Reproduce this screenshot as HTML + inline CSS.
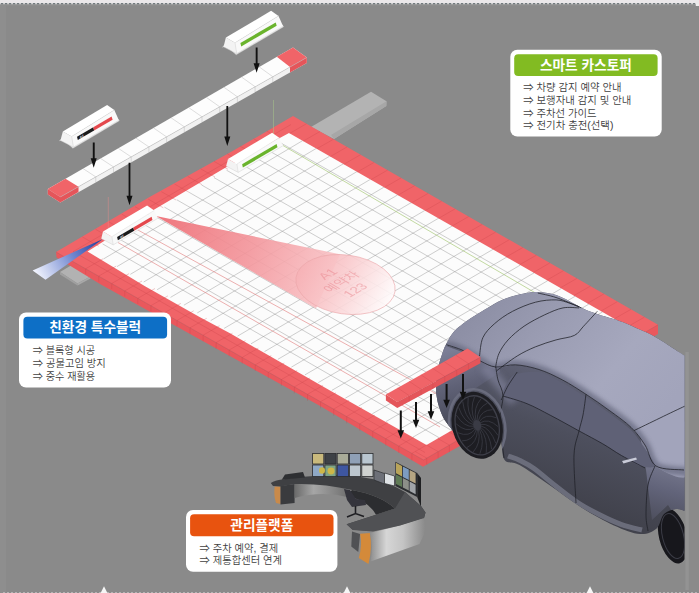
<!DOCTYPE html><html><head><meta charset="utf-8"><title>스마트 카스토퍼</title><style>html,body{margin:0;padding:0;background:#8a8a8a;overflow:hidden}svg{display:block}</style></head><body>
<svg width="699" height="593" viewBox="0 0 699 593">
<rect x="0" y="0" width="699" height="593" fill="#8a8a8a"/>
<rect x="0" y="0" width="699" height="3.2" fill="#ebe8ea"/>
<rect x="0" y="3" width="699" height="1.5" fill="#cfcfd0"/>
<line x1="1" y1="3.8" x2="696" y2="3.8" stroke="#727a7e" stroke-width="1.5" stroke-dasharray="2.1 1.9"/>
<rect x="0" y="4.5" width="699" height="1" fill="#8f8f8f"/>
<rect x="695.8" y="3.1" width="3.2" height="2.9" fill="#ececec"/>
<rect x="0" y="5" width="6" height="588" fill="#8e8e8e"/>
<rect x="685.5" y="352" width="3.3" height="238" fill="#939393"/>
<line x1="3" y1="592.6" x2="699" y2="592.6" stroke="#bdbdbd" stroke-width="0.9" stroke-dasharray="2 2"/>
<polygon points="104,586.3 100.6,593 107.4,593" fill="#f6f6f6"/>
<polygon points="347,586.3 343.6,593 350.4,593" fill="#f6f6f6"/>
<polygon points="590,586.3 586.6,593 593.4,593" fill="#f6f6f6"/>
<polygon points="311,127 371,91.8 386.5,101.3 386.3,106 334,139" fill="#b3b3b3"/>
<polygon points="386.5,101.3 386.3,106 334,139 331,135" fill="#a7a7a7"/>
<polygon points="60,272 71,265.5 90.5,276.5 77.5,283.5" fill="#b2b2b2"/>
<polygon points="60,272 77.5,283.5 77.5,285.5 60,274.5" fill="#a0a0a0"/>
<polygon points="77.5,283.5 90.5,276.5 90.5,278.5 77.5,285.5" fill="#a8a8a8"/>
<polygon points="56.0,252.0 423.5,460.0 658.0,324.8 658.0,334.0 423.0,466.8 318.8,405.3 200.0,339.6 100.0,284.0 56.6,257.5" fill="#e9585d"/>
<polygon points="56.0,252.0 150.0,196.8 230.0,152.6 293.0,116.0 658.0,324.8 423.5,460.0" fill="#f06468"/>
<polygon points="87.5,251.5 154.3,209.5 227.4,166.5 289.0,133.0 630.0,327.7 426.5,445.0 330.0,390.4 230.0,333.3 200.0,317.2 145.0,286.2" fill="#fcfcfc"/>
<path d="M102.6 243.9L439.1 437.7M114.9 236.5L451.7 430.5M127.3 229.2L464.4 423.2M139.6 221.9L477.0 415.9M152.0 214.5L489.7 408.6M164.4 207.1L502.4 401.3M176.8 199.8L515.1 394.0M189.2 192.4L527.8 386.6M201.6 185.0L540.5 379.3M214.0 177.6L553.2 371.9M226.5 170.2L566.0 364.6M239.0 162.8L578.8 357.2M251.5 155.3L591.5 349.9M264.0 147.9L604.4 342.5M276.5 140.5L617.2 335.1M103.6 258.9L302.5 140.7M117.0 266.6L316.1 148.5M130.4 274.3L329.6 156.2M143.7 282.0L343.2 163.9M157.1 289.7L356.8 171.7M170.5 297.4L370.3 179.4M183.9 305.2L383.9 187.2M197.3 312.9L397.5 195.0M210.7 320.6L411.1 202.7M224.1 328.4L424.7 210.5M237.6 336.1L438.4 218.3M251.0 343.8L452.0 226.1M264.5 351.6L465.6 233.9M277.9 359.3L479.3 241.6M291.4 367.1L492.9 249.4M304.9 374.9L506.6 257.2M318.3 382.6L520.3 265.1M331.8 390.4L534.0 272.9M345.3 398.2L547.7 280.7M358.8 406.0L561.4 288.5M372.3 413.8L575.1 296.3M385.9 421.6L588.8 304.2M399.4 429.4L602.5 312.0M412.9 437.2L616.3 319.9" stroke="#8c8c8c" stroke-width="0.7" fill="none" opacity="0.6"/>
<path d="M82.3 236.9L98.7 246.2M95.5 229.3L111.6 238.5M108.7 221.8L124.5 230.8M121.8 214.2L137.4 223.2M135.0 206.7L150.4 215.5M148.2 199.1L163.3 207.8M161.3 191.6L176.2 200.1M174.5 184.0L189.2 192.4M187.7 176.4L202.1 184.7M200.8 168.9L215.0 177.0M214.0 161.3L228.0 169.3M227.2 153.8L240.9 161.6M240.3 146.2L253.8 153.9M253.5 138.7L266.7 146.2M266.7 131.1L279.7 138.5M306.5 123.7L289.7 133.4M320.0 131.5L303.2 141.1M333.6 139.2L316.7 148.8M347.1 146.9L330.3 156.6M360.6 154.7L343.8 164.3M374.1 162.4L357.3 172.0M387.6 170.1L370.9 179.7M401.1 177.9L384.4 187.5M414.7 185.6L397.9 195.2M428.2 193.3L411.5 202.9M441.7 201.1L425.0 210.7M455.2 208.8L438.5 218.4M468.7 216.5L452.1 226.1M482.3 224.3L465.6 233.8M495.8 232.0L479.1 241.6M509.3 239.7L492.7 249.3M522.8 247.5L506.2 257.0M536.3 255.2L519.7 264.7M549.9 262.9L533.3 272.5M563.4 270.7L546.8 280.2M576.9 278.4L560.3 287.9M590.4 286.1L573.8 295.6M603.9 293.9L587.4 303.4M617.4 301.6L600.9 311.1M631.0 309.3L614.4 318.8M644.5 317.1L628.0 326.5M103.2 258.7L85.6 268.8L85.6 274.1M116.2 266.1L98.7 276.1L98.7 281.5M129.1 273.6L111.7 283.5L111.7 289.0M142.0 281.0L124.8 290.9L124.8 296.4M155.0 288.5L137.8 298.3L137.8 303.9M167.9 295.9L150.9 305.7L150.9 311.3M180.8 303.4L163.9 313.1L163.9 318.8M193.7 310.8L177.0 320.5L177.0 326.3M206.7 318.3L190.0 327.8L190.0 333.7M219.6 325.7L203.1 335.2L203.1 341.2M232.5 333.2L216.1 342.6L216.1 348.6M245.5 340.6L229.2 350.0L229.2 356.1M258.4 348.1L242.2 357.4L242.2 363.5M271.3 355.6L255.3 364.8L255.3 371.0M284.3 363.0L268.3 372.2L268.3 378.4M297.2 370.5L281.4 379.5L281.4 385.9M310.1 377.9L294.4 386.9L294.4 393.3M323.1 385.4L307.5 394.3L307.5 400.8M336.0 392.8L320.5 401.7L320.5 408.3M348.9 400.3L333.6 409.1L333.6 415.7M361.8 407.7L346.6 416.5L346.6 423.2M374.8 415.2L359.7 423.9L359.7 430.6M387.7 422.6L372.7 431.2L372.7 438.1M400.6 430.1L385.8 438.6L385.8 445.5M413.6 437.5L398.8 446.0L398.8 453.0M426.5 445.0L411.9 453.4L411.9 460.4M415.2 451.5L426.7 458.1L426.7 464.7M426.5 445.0L438.1 451.6L438.1 458.3M437.8 438.5L449.4 445.1L449.4 451.9M449.1 432.0L460.7 438.6L460.7 445.5M460.4 425.4L472.0 432.1L472.0 439.1M471.7 418.9L483.3 425.5L483.3 432.7M483.0 412.4L494.6 419.0L494.6 426.4M494.3 405.9L505.9 412.5L505.9 420.0M505.6 399.4L517.2 406.0L517.2 413.6M516.9 392.9L528.5 399.5L528.5 407.2M528.2 386.4L539.8 393.0L539.8 400.8M539.6 379.8L551.1 386.4L551.1 394.4M550.9 373.3L562.4 379.9L562.4 388.0M562.2 366.8L573.7 373.4L573.7 381.6M573.5 360.3L585.0 366.9L585.0 375.2M584.8 353.8L596.3 360.4L596.3 368.9M596.1 347.2L607.6 353.8L607.6 362.5M607.4 340.7L618.9 347.3L618.9 356.1M618.7 334.2L630.2 340.8L630.2 349.7M56.0 252.0L423.5 460.0L658.0 324.8M73.2 251.6L425.0 452.5M73.2 251.6L291.0 124.5" stroke="#c9444b" stroke-width="0.6" fill="none" opacity="0.5"/>
<path d="M283,145.5 L640,354" stroke="#9fc46a" stroke-width="0.7" fill="none" opacity="0.9"/>
<path d="M118,242.5 L440,427 M137,229.5 L460,406.8" stroke="#e07a7a" stroke-width="0.7" fill="none" opacity="0.85"/>
<line x1="108.3" y1="197" x2="108.3" y2="236" stroke="#e88a8a" stroke-width="0.8" opacity="0.55"/>
<line x1="273.5" y1="100" x2="273.5" y2="134" stroke="#a9c98a" stroke-width="0.8" opacity="0.6"/>
<defs>
<linearGradient id="coneg" gradientUnits="userSpaceOnUse" x1="156" y1="216" x2="395" y2="300">
<stop offset="0" stop-color="#ee6f76" stop-opacity="0.95"/>
<stop offset="0.4" stop-color="#f3959b" stop-opacity="0.9"/>
<stop offset="0.75" stop-color="#f9c6c9" stop-opacity="0.9"/>
<stop offset="1" stop-color="#ffffff" stop-opacity="0.9"/>
</linearGradient>
<linearGradient id="beamg" gradientUnits="userSpaceOnUse" x1="103" y1="239" x2="36" y2="276">
<stop offset="0" stop-color="#1c3a9a"/>
<stop offset="0.45" stop-color="#6f86cf"/>
<stop offset="1" stop-color="#f4f6ff"/>
</linearGradient>
</defs>
<polygon points="156,216 340,254.3 316,308.5" fill="url(#coneg)"/>
<ellipse cx="345.5" cy="284.5" rx="50" ry="29.5" transform="rotate(8 345.5 284.5)" fill="url(#coneg)" stroke="#eba4a8" stroke-width="0.6"/>
<g transform="matrix(0.866,-0.5,0.866,0.5,341.5,282)" font-family="'Liberation Sans','Noto Sans CJK KR',sans-serif" font-size="13" fill="#e8848c" opacity="0.5" text-anchor="middle"><text x="0" y="-11.5">A1</text><text x="0" y="4.5">예약차</text><text x="0" y="20.5">123</text></g>
<polygon points="103,239 32.6,270.4 45.5,279.8" fill="url(#beamg)"/>
<polygon points="47.8,189.0 60.3,197.0 306.8,57.5 306.8,62.9 60.3,202.4 47.8,194.4" fill="#f1f1f1"/>
<polygon points="47.8,189.0 293.0,47.4 306.8,57.5 60.3,197.0" fill="#fdfdfd"/>
<polygon points="47.8,189.0 65.5,178.8 78.5,186.7 60.3,197.0" fill="#f06468"/>
<polygon points="47.8,189.0 60.3,197.0 78.5,186.7 78.5,192.1 60.3,202.4 47.8,194.4" fill="#e4555a"/>
<polygon points="276.8,56.7 293.0,47.4 306.8,57.5 290.0,67.0" fill="#f06468"/>
<polygon points="290.0,67.0 306.8,57.5 306.8,62.9 290.0,72.4" fill="#e4555a"/>
<path d="M83.1 168.6L95.8 176.9L95.8 182.3M100.7 158.5L113.5 166.9L113.5 172.3M118.3 148.3L131.2 156.9L131.2 162.3M135.9 138.1L148.9 146.9L148.9 152.3M153.5 127.9L166.6 136.9L166.6 142.3M171.1 117.8L184.3 126.8L184.3 132.2M188.7 107.6L202.0 116.8L202.0 122.2M206.4 97.4L219.7 106.8L219.7 112.2M224.0 87.3L237.4 96.8L237.4 102.2M241.6 77.1L255.1 86.7L255.1 92.1M259.2 66.9L272.8 76.7L272.8 82.1M60.3 197.0L306.8 57.5" stroke="#b9b9b9" stroke-width="0.6" fill="none" opacity="0.8"/>
<polygon points="59.4,140.9 61.8,138.3 72.9,148.3 119.4,120.7 117.7,118.7" fill="#e9e9e9" stroke="#c9c9c9" stroke-width="0.4"/>
<polygon points="62.8,131.4 71.7,136.5 73.4,147.1 60.5,140.4" fill="#f3f3f3"/>
<polygon points="71.7,136.5 114.3,110.1 118.9,120.2 73.4,147.1" fill="#f9f9f9"/>
<polygon points="62.8,131.4 107.1,105.0 114.3,110.1 71.7,136.5" fill="#ffffff"/>
<path d="M60.5 140.4L73.4 147.1L118.9 120.2 M71.7 136.5L73.4 147.1" stroke="#d2d2d2" stroke-width="0.5" fill="none"/>
<path d="M71.7 136.5L114.3 110.1" stroke="#dcdcdc" stroke-width="0.5" fill="none"/>
<polygon points="77.0,136.7 93.3,127.2 94.1,130.5 77.8,140.1" fill="#1b1b1b"/>
<polygon points="93.3,127.2 111.6,116.5 112.6,119.7 94.1,130.5" fill="#e4484d"/>
<text transform="matrix(0.866,-0.5,0,1,79.8,138.7)" font-family="'Liberation Sans','Noto Sans CJK KR',sans-serif" font-size="3.4" font-weight="700" fill="#ffffff">A1</text>
<polygon points="222.4,47.3 224.9,44.6 236.2,54.8 283.7,26.7 281.9,24.6" fill="#e9e9e9" stroke="#c9c9c9" stroke-width="0.4"/>
<polygon points="225.9,37.6 235.0,42.8 236.7,53.6 223.6,46.8" fill="#f3f3f3"/>
<polygon points="235.0,42.8 278.5,15.9 283.1,26.2 236.7,53.6" fill="#f9f9f9"/>
<polygon points="225.9,37.6 271.1,10.7 278.5,15.9 235.0,42.8" fill="#ffffff"/>
<path d="M223.6 46.8L236.7 53.6L283.1 26.2 M235.0 42.8L236.7 53.6" stroke="#d2d2d2" stroke-width="0.5" fill="none"/>
<path d="M235.0 42.8L278.5 15.9" stroke="#dcdcdc" stroke-width="0.5" fill="none"/>
<polygon points="240.4,43.0 275.7,22.4 276.7,25.7 241.2,46.5" fill="#6ab42d"/>
<polygon points="228.0,158.9 236.9,164.0 238.2,172.4 226.2,166.1" fill="#f3f3f3"/>
<polygon points="236.9,164.0 279.3,137.7 282.9,145.8 238.2,172.4" fill="#f9f9f9"/>
<polygon points="228.0,158.9 272.1,132.7 279.3,137.7 236.9,164.0" fill="#ffffff"/>
<path d="M226.2 166.1L238.2 172.4L282.9 145.8 M236.9 164.0L238.2 172.4" stroke="#d2d2d2" stroke-width="0.5" fill="none"/>
<path d="M236.9 164.0L279.3 137.7" stroke="#dcdcdc" stroke-width="0.5" fill="none"/>
<polygon points="242.1,164.2 276.6,144.1 277.5,147.3 242.9,167.6" fill="#6ab42d"/>
<polygon points="103.0,231.6 111.9,236.7 113.2,244.9 101.3,238.6" fill="#f3f3f3"/>
<polygon points="111.9,236.7 154.3,210.4 157.8,218.3 113.2,244.9" fill="#f9f9f9"/>
<polygon points="103.0,231.6 147.1,205.4 154.3,210.4 111.9,236.7" fill="#ffffff"/>
<path d="M101.3 238.6L113.2 244.9L157.8 218.3 M111.9 236.7L113.2 244.9" stroke="#d2d2d2" stroke-width="0.5" fill="none"/>
<path d="M111.9 236.7L154.3 210.4" stroke="#dcdcdc" stroke-width="0.5" fill="none"/>
<polygon points="117.1,236.9 133.3,227.4 134.2,230.7 117.9,240.3" fill="#1b1b1b"/>
<polygon points="133.3,227.4 151.6,216.8 152.5,220.0 134.2,230.7" fill="#e4484d"/>
<text transform="matrix(0.866,-0.5,0,1,119.9,238.8)" font-family="'Liberation Sans','Noto Sans CJK KR',sans-serif" font-size="3.4" font-weight="700" fill="#ffffff">A1</text>
<path d="M255.7 47.5V63.2H253.6L256.6 72.7L259.6 63.2H257.6V47.5Z" fill="#111"/>
<path d="M226.4 106.0V136.5H224.3L227.3 146.0L230.3 136.5H228.2V106.0Z" fill="#111"/>
<path d="M92.8 142.5V158.3H90.7L93.7 167.8L96.7 158.3H94.7V142.5Z" fill="#111"/>
<path d="M128.6 162.7V195.7H126.5L129.5 205.2L132.5 195.7H130.4V162.7Z" fill="#111"/>
<defs>
<linearGradient id="silv" x1="0" y1="0" x2="1" y2="0"><stop offset="0" stop-color="#8c8c8c"/><stop offset="0.3" stop-color="#d6d6d6"/><stop offset="0.6" stop-color="#c4c4c4"/><stop offset="1" stop-color="#8a8a8a"/></linearGradient>
<linearGradient id="silv2" x1="0" y1="0" x2="1" y2="0"><stop offset="0" stop-color="#6a6a6a"/><stop offset="0.35" stop-color="#a6a6a6"/><stop offset="1" stop-color="#6e6e6e"/></linearGradient>
</defs>
<g id="desk">
<path d="M274.7 486.5 L280.5 486.5 L280.5 504 L276 503 Q273.5 495 274.7 486.5Z" fill="#c98a4a"/>
<path d="M280.5 486 L294.6 484 L294.6 503 L280.5 504.5Z" fill="#3a3b3e"/>
<path d="M294.6 483.6 Q322 480.5 345 487.5 L349 497.5 Q322 490.5 294.6 498Z" fill="url(#silv2)"/>
<path d="M270.8 483 Q275 480 282 479.5 L300 477 Q330 474 355 476 Q385 480 405 492 L421 506 L425.5 512.5 L424 518 L400 525 L373 531 L352.7 529.7 L346.6 524.2 L376 514.7 L395 508.5 Q380 495 352 490 Q322 483 294.6 484 L280.5 486.5 L273 486 Z" fill="#3f4043"/>
<path d="M352 490 Q380 495 395 508.5 L376 514.7 Q368 500 346 496Z" fill="#2c2d30"/>
<path d="M281.7 479.8 L285 474.6 L303 472 L305 477.5Z" fill="#2e2f32"/>
<rect x="312.6" y="453.4" width="11.2" height="10.6" fill="#c9b97c" stroke="#2a2b2e" stroke-width="0.8"/>
<rect x="312.6" y="465" width="11.2" height="11.6" fill="#8fa9c6" stroke="#2a2b2e" stroke-width="0.8"/>
<rect x="324.9" y="453.4" width="11.2" height="10.6" fill="#3e4146" stroke="#2a2b2e" stroke-width="0.8"/>
<rect x="324.9" y="465" width="11.2" height="11.6" fill="#7fa486" stroke="#2a2b2e" stroke-width="0.8"/>
<rect x="337.2" y="453.4" width="11.2" height="10.6" fill="#a9ab98" stroke="#2a2b2e" stroke-width="0.8"/>
<rect x="337.2" y="465" width="11.2" height="11.6" fill="#3e56a0" stroke="#2a2b2e" stroke-width="0.8"/>
<rect x="349.5" y="453.4" width="11.2" height="10.6" fill="#8fa0b6" stroke="#2a2b2e" stroke-width="0.8"/>
<rect x="349.5" y="465" width="11.2" height="11.6" fill="#bcc6ce" stroke="#2a2b2e" stroke-width="0.8"/>
<rect x="361.8" y="453.4" width="11.2" height="10.6" fill="#b9c6d0" stroke="#2a2b2e" stroke-width="0.8"/>
<rect x="361.8" y="465" width="11.2" height="11.6" fill="#cfd2d0" stroke="#2a2b2e" stroke-width="0.8"/>
<ellipse cx="322" cy="470.5" rx="3" ry="3.2" fill="#cdb748"/>
<ellipse cx="331" cy="471" rx="3.5" ry="3.4" fill="#cdb748"/>
<path d="M374 470 L384.5 473.5 L384.5 484 L374 480Z" fill="#6d7078" stroke="#2a2b2e" stroke-width="0.7"/>
<path d="M384.5 473 L394.5 476 L394.5 486 L384.5 483.5Z" fill="#dfe3e6" stroke="#2a2b2e" stroke-width="0.7"/>
<path d="M395.4 461.7 L417.2 473 L417.2 497 L395.4 486Z" fill="#2b2d30"/>
<path d="M396.0 462.8 l6 3.1 v10.5 l-6 -3.1Z" fill="#b9a45a"/>
<path d="M396.0 474.4 l6 3.1 v9.5 l-6 -3.1Z" fill="#5f7a55"/>
<path d="M402.8 466.4 l6 3.1 v10.5 l-6 -3.1Z" fill="#7d9cc0"/>
<path d="M402.8 478.0 l6 3.1 v9.5 l-6 -3.1Z" fill="#8c8f88"/>
<path d="M409.6 470.0 l6 3.1 v10.5 l-6 -3.1Z" fill="#b5a582"/>
<path d="M409.6 481.6 l6 3.1 v9.5 l-6 -3.1Z" fill="#a0a4a8"/>
<path d="M417.2 473 L421 478 L421 507 L417.2 497Z" fill="#1f2022"/>
<path d="M344 489 L350 490 L356 499 L365 500 L366 505 L352 507 L347 500Z" fill="#34343c"/>
<path d="M355.5 506 V514 M347 517 L355.5 513.5 L364 516.5" stroke="#1e1e22" stroke-width="1.6" fill="none"/>
<path d="M352 531.5 L360.1 534 L358.3 552 L351.3 546.6Z" fill="#505154"/>
<path d="M360.1 533.7 L369.9 533 Q372.5 548 368.5 564 L358.8 558 Q362.5 545 360.1 533.7Z" fill="#d48a3a"/>
<path d="M369.9 533 L400 525.5 L423.3 518 Q426.5 526 424 534.5 L419.5 544 L370.5 561.5 Q373.5 546 369.9 533Z" fill="url(#silv)"/>
<path d="M346.6 524.2 L376 514.7 L395 508.5 L405 492 L421 506 L425.5 512.5 L424 518 L400 525.5 L373 531.5 L352.7 529.9Z" fill="#505154"/>
</g>
<defs>
<linearGradient id="carside" gradientUnits="userSpaceOnUse" x1="520" y1="360" x2="480" y2="470">
<stop offset="0" stop-color="#5f6174"/><stop offset="0.45" stop-color="#4d4f5d"/><stop offset="1" stop-color="#41424c"/>
</linearGradient>
<linearGradient id="cartop" gradientUnits="userSpaceOnUse" x1="470" y1="300" x2="640" y2="440">
<stop offset="0" stop-color="#8b8da3"/><stop offset="0.35" stop-color="#9a9cb2"/><stop offset="0.7" stop-color="#a6a8be"/><stop offset="1" stop-color="#a2a4bb"/>
</linearGradient>
<linearGradient id="carrear" gradientUnits="userSpaceOnUse" x1="670" y1="455" x2="650" y2="530">
<stop offset="0" stop-color="#7d7f94"/><stop offset="0.45" stop-color="#62647a"/><stop offset="1" stop-color="#474854"/>
</linearGradient>
<linearGradient id="carfront" gradientUnits="userSpaceOnUse" x1="450" y1="350" x2="470" y2="420">
<stop offset="0" stop-color="#7c7e96"/><stop offset="0.5" stop-color="#5f6176"/><stop offset="1" stop-color="#484a58"/>
</linearGradient>
<clipPath id="carclip"><path d="M436.0 392.0C436.1 389.7 436.1 382.3 436.5 378.0C436.9 373.7 437.6 369.9 438.5 366.0C439.4 362.1 440.7 358.3 442.0 354.6C443.3 350.9 444.4 347.5 446.4 343.6C448.4 339.8 450.5 335.3 454.0 331.5C457.5 327.7 462.2 324.2 467.3 320.6C472.4 317.0 479.0 313.1 484.8 309.6C490.6 306.1 496.5 302.2 502.4 299.7C508.3 297.1 514.5 295.6 520.0 294.3C525.5 293.0 529.8 292.1 535.3 292.0C540.8 291.9 547.8 292.9 552.8 294.0C557.8 295.1 561.4 297.2 565.0 298.8C568.6 300.4 570.8 302.0 574.3 303.8C577.8 305.6 581.8 308.1 585.8 309.8C589.8 311.5 593.5 312.7 598.0 314.2C602.5 315.7 608.3 317.3 612.9 318.8C617.5 320.3 621.4 321.5 625.7 323.2C630.0 324.9 634.3 327.1 638.6 329.0C642.9 330.9 647.2 332.6 651.5 334.8C655.8 337.1 660.1 339.8 664.4 342.5C668.7 345.2 673.9 348.7 677.2 350.9C680.6 353.1 683.3 354.8 684.5 355.6L684.5 510.7C683.1 510.4 679.4 508.4 676.0 509.0C672.6 509.6 667.3 510.7 664.0 514.0C660.7 517.3 660.4 525.4 656.4 528.7C652.4 532.0 647.1 534.5 640.0 534.0C632.9 533.5 623.8 529.8 614.0 525.4C604.2 521.0 592.2 514.3 581.4 507.5C570.6 500.7 559.3 491.8 549.0 484.7C538.7 477.6 526.9 469.1 519.5 465.0C512.1 460.9 507.7 464.2 504.6 460.0C501.5 455.8 502.6 447.5 501.0 440.0C499.4 432.5 498.2 422.3 495.0 415.0C491.8 407.7 486.8 399.5 482.0 396.0C477.2 392.5 470.3 392.0 466.0 394.0C461.7 396.0 457.5 401.3 456.0 408.0C454.5 414.7 458.0 430.8 457.0 434.0C456.0 437.2 452.2 429.7 450.0 427.0C447.8 424.3 445.4 421.7 443.5 418.0C441.6 414.3 439.8 409.3 438.5 405.0C437.2 400.7 436.4 394.2 436.0 392.0Z"/></clipPath>
</defs>
<g id="car">
<g clip-path="url(#rclip)"><g transform="rotate(-14 673 536)"><ellipse cx="673" cy="536" rx="14" ry="28" fill="#17171c"/><ellipse cx="673" cy="536" rx="10.5" ry="23" fill="none" stroke="#3b3c46" stroke-width="1"/></g></g>
<defs><clipPath id="rclip"><rect x="600" y="480" width="84.5" height="100"/></clipPath></defs>
<path d="M436.0 392.0C436.1 389.7 436.1 382.3 436.5 378.0C436.9 373.7 437.6 369.9 438.5 366.0C439.4 362.1 440.7 358.3 442.0 354.6C443.3 350.9 444.4 347.5 446.4 343.6C448.4 339.8 450.5 335.3 454.0 331.5C457.5 327.7 462.2 324.2 467.3 320.6C472.4 317.0 479.0 313.1 484.8 309.6C490.6 306.1 496.5 302.2 502.4 299.7C508.3 297.1 514.5 295.6 520.0 294.3C525.5 293.0 529.8 292.1 535.3 292.0C540.8 291.9 547.8 292.9 552.8 294.0C557.8 295.1 561.4 297.2 565.0 298.8C568.6 300.4 570.8 302.0 574.3 303.8C577.8 305.6 581.8 308.1 585.8 309.8C589.8 311.5 593.5 312.7 598.0 314.2C602.5 315.7 608.3 317.3 612.9 318.8C617.5 320.3 621.4 321.5 625.7 323.2C630.0 324.9 634.3 327.1 638.6 329.0C642.9 330.9 647.2 332.6 651.5 334.8C655.8 337.1 660.1 339.8 664.4 342.5C668.7 345.2 673.9 348.7 677.2 350.9C680.6 353.1 683.3 354.8 684.5 355.6L684.5 510.7C683.1 510.4 679.4 508.4 676.0 509.0C672.6 509.6 667.3 510.7 664.0 514.0C660.7 517.3 660.4 525.4 656.4 528.7C652.4 532.0 647.1 534.5 640.0 534.0C632.9 533.5 623.8 529.8 614.0 525.4C604.2 521.0 592.2 514.3 581.4 507.5C570.6 500.7 559.3 491.8 549.0 484.7C538.7 477.6 526.9 469.1 519.5 465.0C512.1 460.9 507.7 464.2 504.6 460.0C501.5 455.8 502.6 447.5 501.0 440.0C499.4 432.5 498.2 422.3 495.0 415.0C491.8 407.7 486.8 399.5 482.0 396.0C477.2 392.5 470.3 392.0 466.0 394.0C461.7 396.0 457.5 401.3 456.0 408.0C454.5 414.7 458.0 430.8 457.0 434.0C456.0 437.2 452.2 429.7 450.0 427.0C447.8 424.3 445.4 421.7 443.5 418.0C441.6 414.3 439.8 409.3 438.5 405.0C437.2 400.7 436.4 394.2 436.0 392.0Z" fill="url(#carside)"/>
<g clip-path="url(#carclip)">
<path d="M508.0 456.0C510.0 456.8 515.7 458.4 520.0 460.5C524.3 462.6 528.0 464.2 534.0 468.5C540.0 472.8 548.5 480.3 555.8 486.0C563.1 491.7 570.4 497.7 577.7 502.5C585.0 507.3 592.3 511.1 599.6 514.8C606.9 518.5 614.5 522.1 621.6 524.6C628.7 527.1 638.6 529.1 642.0 530.0" fill="none" stroke="#6f7180" stroke-width="5" opacity="0.9"/>
<polygon points="430,340 500,366 500,372 470,392 452,430 430,430" fill="url(#carfront)"/>
<path d="M484 366 Q498 380 514 402" fill="none" stroke="#8587a0" stroke-width="11" opacity="0.6" filter="url(#blr2)"/>
<defs><filter id="blr2" x="-50%" y="-50%" width="200%" height="200%"><feGaussianBlur stdDeviation="3"/></filter></defs>
<polygon points="640,436 690,420 690,540 668,505 652,520 646,470" fill="url(#carrear)"/>
<path d="M443.0 353.0C442.8 352.7 445.0 346.3 446.4 343.6C447.8 340.9 451.4 334.4 454.0 331.5C456.6 328.6 463.4 323.3 467.3 320.6C471.2 317.9 480.4 312.2 484.8 309.6C489.2 307.0 498.0 301.6 502.4 299.7C506.8 297.8 515.9 295.3 520.0 294.3C524.1 293.3 531.2 292.0 535.3 292.0C539.4 292.0 549.1 293.1 552.8 294.0C556.5 294.9 562.3 297.6 565.0 298.8C567.7 300.0 571.7 302.4 574.3 303.8C576.9 305.2 582.8 308.5 585.8 309.8C588.8 311.1 594.6 313.1 598.0 314.2C601.4 315.3 609.4 317.7 612.9 318.8C616.4 319.9 622.5 321.9 625.7 323.2C628.9 324.5 635.4 327.6 638.6 329.0C641.8 330.4 648.3 333.1 651.5 334.8C654.7 336.5 661.2 340.5 664.4 342.5C667.6 344.5 674.0 349.0 677.2 350.9C680.4 352.8 688.4 342.9 690.0 358.0C691.6 373.1 694.1 458.4 690.0 472.0C685.9 485.6 662.6 470.4 657.0 467.0C651.4 463.6 648.2 450.0 645.0 445.0C641.8 440.0 635.4 431.6 631.0 427.3C626.6 423.0 615.4 414.9 609.8 410.8C604.2 406.7 591.9 398.2 586.0 394.3C580.1 390.4 568.5 383.1 562.6 380.0C556.7 376.9 544.9 371.4 539.0 369.5C533.1 367.6 521.0 364.9 515.4 364.8C509.8 364.7 498.4 368.8 494.0 368.3C489.6 367.8 484.3 363.2 480.4 361.0C476.5 358.8 467.1 352.9 463.0 351.0C458.9 349.1 450.5 345.8 448.0 346.0C445.5 346.2 443.2 353.3 443.0 353.0Z" fill="url(#cartop)"/>
<defs><filter id="blr" x="-10%" y="-10%" width="120%" height="120%"><feGaussianBlur stdDeviation="2.2"/></filter><clipPath id="ltclip"><path d="M443.0 353.0C442.8 352.7 445.0 346.3 446.4 343.6C447.8 340.9 451.4 334.4 454.0 331.5C456.6 328.6 463.4 323.3 467.3 320.6C471.2 317.9 480.4 312.2 484.8 309.6C489.2 307.0 498.0 301.6 502.4 299.7C506.8 297.8 515.9 295.3 520.0 294.3C524.1 293.3 531.2 292.0 535.3 292.0C539.4 292.0 549.1 293.1 552.8 294.0C556.5 294.9 562.3 297.6 565.0 298.8C567.7 300.0 571.7 302.4 574.3 303.8C576.9 305.2 582.8 308.5 585.8 309.8C588.8 311.1 594.6 313.1 598.0 314.2C601.4 315.3 609.4 317.7 612.9 318.8C616.4 319.9 622.5 321.9 625.7 323.2C628.9 324.5 635.4 327.6 638.6 329.0C641.8 330.4 648.3 333.1 651.5 334.8C654.7 336.5 661.2 340.5 664.4 342.5C667.6 344.5 674.0 349.0 677.2 350.9C680.4 352.8 688.4 342.9 690.0 358.0C691.6 373.1 694.1 458.4 690.0 472.0C685.9 485.6 662.6 470.4 657.0 467.0C651.4 463.6 648.2 450.0 645.0 445.0C641.8 440.0 635.4 431.6 631.0 427.3C626.6 423.0 615.4 414.9 609.8 410.8C604.2 406.7 591.9 398.2 586.0 394.3C580.1 390.4 568.5 383.1 562.6 380.0C556.7 376.9 544.9 371.4 539.0 369.5C533.1 367.6 521.0 364.9 515.4 364.8C509.8 364.7 498.4 368.8 494.0 368.3C489.6 367.8 484.3 363.2 480.4 361.0C476.5 358.8 467.1 352.9 463.0 351.0C458.9 349.1 450.5 345.8 448.0 346.0C445.5 346.2 443.2 353.3 443.0 353.0Z"/></clipPath></defs>
<g clip-path="url(#ltclip)"><path d="M443.0 353.0C443.8 351.8 444.7 346.3 448.0 346.0C451.3 345.7 457.6 348.5 463.0 351.0C468.4 353.5 475.2 358.1 480.4 361.0C485.6 363.9 488.2 367.7 494.0 368.3C499.8 368.9 507.9 364.6 515.4 364.8C522.9 365.0 531.1 367.0 539.0 369.5C546.9 372.0 554.8 375.9 562.6 380.0C570.4 384.1 578.1 389.2 586.0 394.3C593.9 399.4 602.3 405.3 609.8 410.8C617.3 416.3 625.1 421.6 631.0 427.3C636.9 433.0 640.7 438.4 645.0 445.0C649.3 451.6 649.5 462.5 657.0 467.0C664.5 471.5 684.5 471.2 690.0 472.0" fill="none" stroke="#686a80" stroke-width="9" opacity="0.75" filter="url(#blr)"/></g>
<path d="M513.0 375.5C517.5 372.5 532.8 371.1 539.0 372.0C545.2 372.9 556.7 379.9 562.6 383.0C568.5 386.1 580.1 393.2 586.0 397.0C591.9 400.8 604.2 409.4 609.8 413.5C615.4 417.6 626.7 425.8 631.0 430.0C635.3 434.2 641.0 442.5 644.0 447.0C647.0 451.5 655.5 463.6 655.0 466.0C654.5 468.4 644.2 467.3 640.0 466.0C635.8 464.7 626.3 458.4 621.6 455.6C616.9 452.8 608.0 446.9 602.7 443.8C597.4 440.7 585.5 434.4 579.0 430.9C572.5 427.4 557.3 418.9 550.8 415.5C544.3 412.1 533.0 406.1 527.0 403.7C521.0 401.3 504.8 399.5 503.0 396.0C501.2 392.5 508.5 378.5 513.0 375.5Z" fill="#5f6176"/>
</g>
<path d="M446.4 344.7C449.2 345.7 457.3 347.8 463.0 350.5C468.7 353.2 474.9 358.2 480.4 361.0C485.9 363.8 490.0 366.4 495.8 367.0C501.6 367.6 508.2 364.4 515.4 364.8C522.6 365.2 531.1 367.0 539.0 369.5C546.9 372.0 554.8 375.9 562.6 380.0C570.4 384.1 578.1 389.2 586.0 394.3C593.9 399.4 602.3 405.3 609.8 410.8C617.3 416.3 625.1 421.6 631.0 427.3C636.9 433.0 640.8 438.6 645.0 445.0C649.2 451.4 649.5 461.8 656.0 466.0C662.5 470.2 679.3 469.3 684.0 470.0" fill="none" stroke="#1e1f26" stroke-width="0.9" opacity="0.85"/>
<path d="M634.0 430.6C638.3 428.5 651.6 422.1 660.0 418.0C668.4 413.9 680.4 408.2 684.5 406.3" fill="none" stroke="#1e1f26" stroke-width="0.9" opacity="0.85"/>
<path d="M503.0 396.0C507.0 397.3 519.0 400.4 527.0 403.7C535.0 406.9 542.1 411.0 550.8 415.5C559.5 420.0 570.4 426.2 579.0 430.9C587.6 435.6 595.6 439.7 602.7 443.8C609.8 447.9 614.6 451.6 621.6 455.6C628.6 459.6 641.1 465.9 645.0 468.0" fill="none" stroke="#1e1f26" stroke-width="0.9" opacity="0.85"/>
<path d="M479.5 356.0C480.1 352.9 480.4 343.0 482.9 337.6C485.4 332.2 489.4 328.3 494.3 323.9C499.2 319.5 505.7 314.9 512.6 311.3C519.5 307.7 528.2 304.1 535.5 302.2C542.8 300.3 550.4 299.7 556.1 299.9C561.8 300.1 565.7 302.0 569.9 303.3C574.1 304.6 579.4 307.1 581.3 307.9" fill="none" stroke="#1e1f26" stroke-width="0.9" opacity="0.85"/>
<path d="M495.5 367.4C496.1 365.1 496.8 358.3 498.9 353.7C501.0 349.1 503.9 344.5 508.1 339.9C512.3 335.3 518.0 330.4 524.1 326.2C530.2 322.0 538.2 317.9 544.7 314.8C551.2 311.8 557.3 309.0 563.0 307.9C568.7 306.8 576.3 307.9 579.0 307.9" fill="none" stroke="#1e1f26" stroke-width="0.9" opacity="0.85"/>
<path d="M496.6 370.8C500.0 368.3 510.7 360.0 517.2 356.0C523.7 352.0 529.0 349.5 535.5 346.8C542.0 344.1 549.6 341.8 556.1 339.9C562.6 338.0 569.8 337.7 574.4 335.4C579.0 333.1 579.8 330.2 583.6 326.2C587.4 322.2 595.0 313.8 597.3 311.3" fill="none" stroke="#1e1f26" stroke-width="0.9" opacity="0.85"/>
<path d="M537.8 293.0C540.8 293.8 549.1 295.2 556.0 297.5C562.9 299.8 575.2 305.2 579.0 306.7" fill="none" stroke="#1e1f26" stroke-width="0.9" opacity="0.85"/>
<path d="M517.2 372.0C515.7 374.3 510.8 381.0 508.1 385.7C505.4 390.4 502.4 397.6 501.2 400.0" fill="none" stroke="#1e1f26" stroke-width="0.9" opacity="0.85"/>
<path d="M495.8 367.0C496.2 369.2 496.8 375.2 498.0 380.0C499.2 384.8 502.7 389.3 503.0 396.0C503.3 402.7 499.8 409.7 500.0 420.0C500.2 430.3 503.3 451.7 504.0 458.0" fill="none" stroke="#1e1f26" stroke-width="0.9" opacity="0.85"/>
<path d="M586.0 394.3C585.5 397.8 584.2 408.9 583.0 415.0C581.8 421.1 580.5 424.3 579.0 431.0C577.5 437.7 574.5 443.0 574.0 455.0C573.5 467.0 575.7 495.0 576.0 503.0" fill="none" stroke="#1e1f26" stroke-width="0.9" opacity="0.85"/>
<path d="M655.0 466.0C653.8 469.2 649.5 476.8 648.0 485.0C646.5 493.2 646.0 507.3 646.0 515.0C646.0 522.7 647.7 528.3 648.0 531.0" fill="none" stroke="#1e1f26" stroke-width="0.9" opacity="0.85"/>
<path d="M622 461 L636 457.5 L637 459.5 L623.5 463.5Z" fill="#c9cbd8"/>
<g clip-path="url(#carclip)"><ellipse cx="477.2" cy="425.3" rx="27.5" ry="36.5" transform="rotate(-15 477.2 425.3)" fill="none" stroke="#6c6e80" stroke-width="2.6" opacity="0.9"/></g>
<g transform="rotate(-15 477.2 425.3)"><ellipse cx="477.2" cy="425.3" rx="25" ry="34" fill="#1d1d22"/><ellipse cx="477.2" cy="425.3" rx="21.5" ry="30" fill="none" stroke="#3e3f49" stroke-width="1.3"/><ellipse cx="477.2" cy="425.3" rx="4" ry="5.5" fill="#3a3b45"/>
<path d="M480.7 425.3Q490.2 426.2 494.7 440.5M480.5 426.8Q489.3 431.7 490.5 447.4M480.0 428.2Q487.3 436.6 485.0 452.1M479.3 429.3Q484.3 440.4 478.8 454.2M478.3 430.1Q480.6 442.7 472.4 453.5M477.2 430.3Q476.6 443.3 466.5 450.0M476.1 430.1Q472.6 442.1 461.6 444.1M475.1 429.3Q469.0 439.3 458.3 436.4M474.4 428.2Q466.3 435.1 456.8 427.6M473.9 426.8Q464.7 430.0 457.3 418.5M473.7 425.3Q464.2 424.4 459.7 410.1M473.9 423.8Q465.1 418.9 463.9 403.2M474.4 422.4Q467.1 414.0 469.4 398.5M475.1 421.3Q470.1 410.2 475.6 396.4M476.1 420.5Q473.8 407.9 482.0 397.1M477.2 420.3Q477.8 407.3 487.9 400.6M478.3 420.5Q481.8 408.5 492.8 406.5M479.3 421.3Q485.4 411.3 496.1 414.2M480.0 422.4Q488.1 415.5 497.6 423.0M480.5 423.8Q489.7 420.6 497.1 432.1" stroke="#383942" stroke-width="0.8" fill="none"/></g>
</g>
<polygon points="385.9,394.5 397.3,402.0 480.4,357.2 480.4,363.2 397.3,408.0 385.9,400.5" fill="#e4555a"/>
<polygon points="385.9,394.5 467.5,348.6 480.4,357.2 397.3,402.0" fill="#f06468"/>
<path d="M397.6 387.9L409.2 395.6L409.2 401.6M409.2 381.4L421.0 389.2L421.0 395.2M420.9 374.8L432.9 382.8L432.9 388.8M432.5 368.3L444.8 376.4L444.8 382.4M444.2 361.7L456.7 370.0L456.7 376.0M455.8 355.2L468.5 363.6L468.5 369.6M397.3 402.0L480.4 357.2" stroke="#c9444b" stroke-width="0.6" fill="none" opacity="0.5"/>
<path d="M399.8 410.5V430.3H397.5L400.8 438.5L404.1 430.3H401.8V410.5Z" fill="#111"/>
<path d="M415.0 402.0V419.8H412.7L416.0 428.0L419.3 419.8H417.0V402.0Z" fill="#111"/>
<path d="M430.0 394.0V411.3H427.7L431.0 419.5L434.3 411.3H432.0V394.0Z" fill="#111"/>
<path d="M445.6 384.0V399.8H443.3L446.6 408.0L449.9 399.8H447.6V384.0Z" fill="#111"/>
<path d="M462.0 374.0V391.8H459.7L463.0 400.0L466.3 391.8H464.0V374.0Z" fill="#111"/>
<rect x="510.3" y="49.8" width="151.4" height="86.8" rx="7" fill="#ffffff"/>
<rect x="514.2" y="54.2" width="143.4" height="21.8" rx="4" fill="#82bb22"/>
<text x="585.9" y="69.9" font-family="'Liberation Sans','Noto Sans CJK KR',sans-serif" font-size="13.7" font-weight="700" fill="#ffffff" text-anchor="middle">스마트 카스토퍼</text>
<text x="523.2" y="90.7" font-family="'Liberation Sans','Noto Sans CJK KR',sans-serif" font-size="10.6" font-weight="350" fill="#404040" textLength="98.3" lengthAdjust="spacingAndGlyphs">⇒ 차량 감지 예약 안내</text>
<text x="523.2" y="103.6" font-family="'Liberation Sans','Noto Sans CJK KR',sans-serif" font-size="10.6" font-weight="350" fill="#404040" textLength="108.2" lengthAdjust="spacingAndGlyphs">⇒ 보행자내 감지 및 안내</text>
<text x="523.2" y="116.5" font-family="'Liberation Sans','Noto Sans CJK KR',sans-serif" font-size="10.6" font-weight="350" fill="#404040" textLength="73.5" lengthAdjust="spacingAndGlyphs">⇒ 주차선 가이드</text>
<text x="523.2" y="129.3" font-family="'Liberation Sans','Noto Sans CJK KR',sans-serif" font-size="10.6" font-weight="350" fill="#404040" textLength="90.2" lengthAdjust="spacingAndGlyphs">⇒ 전기차 충전(선택)</text>
<rect x="19.0" y="312.4" width="152.0" height="75.2" rx="7" fill="#ffffff"/>
<rect x="23.4" y="316.7" width="143.7" height="21.9" rx="4" fill="#0d6fc6"/>
<text x="95.2" y="332.4" font-family="'Liberation Sans','Noto Sans CJK KR',sans-serif" font-size="13.7" font-weight="700" fill="#ffffff" text-anchor="middle">친환경 특수블럭</text>
<text x="32.7" y="353.6" font-family="'Liberation Sans','Noto Sans CJK KR',sans-serif" font-size="10.6" font-weight="350" fill="#404040" textLength="62.5" lengthAdjust="spacingAndGlyphs">⇒ 블록형 시공</text>
<text x="32.7" y="366.8" font-family="'Liberation Sans','Noto Sans CJK KR',sans-serif" font-size="10.6" font-weight="350" fill="#404040" textLength="73.1" lengthAdjust="spacingAndGlyphs">⇒ 공물고임 방지</text>
<text x="32.7" y="379.7" font-family="'Liberation Sans','Noto Sans CJK KR',sans-serif" font-size="10.6" font-weight="350" fill="#404040" textLength="62.5" lengthAdjust="spacingAndGlyphs">⇒ 중수 재활용</text>
<rect x="186.0" y="510.0" width="151.4" height="61.7" rx="7" fill="#ffffff"/>
<rect x="190.1" y="514.3" width="143.4" height="21.9" rx="4" fill="#e8530f"/>
<text x="261.8" y="530.0" font-family="'Liberation Sans','Noto Sans CJK KR',sans-serif" font-size="13.7" font-weight="700" fill="#ffffff" text-anchor="middle">관리플랫폼</text>
<text x="199.6" y="551.5" font-family="'Liberation Sans','Noto Sans CJK KR',sans-serif" font-size="10.6" font-weight="350" fill="#404040" textLength="78.5" lengthAdjust="spacingAndGlyphs">⇒ 주차 예약, 결제</text>
<text x="199.6" y="563.7" font-family="'Liberation Sans','Noto Sans CJK KR',sans-serif" font-size="10.6" font-weight="350" fill="#404040" textLength="82.4" lengthAdjust="spacingAndGlyphs">⇒ 제통합센터 연계</text>
</svg></body></html>
